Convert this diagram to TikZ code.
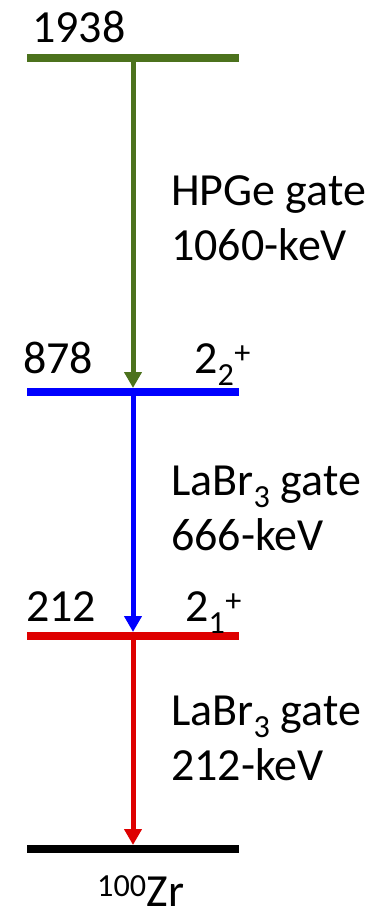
\documentclass[tikz,border=0pt]{standalone}
\usepackage{fontspec}
\setmainfont{Carlito}
\usetikzlibrary{arrows.meta}
\definecolor{lvgreen}{RGB}{76,114,29}
\definecolor{lvblue}{RGB}{0,0,255}
\definecolor{lvred}{RGB}{222,0,0}
\tikzset{
  level/.style={line width=8pt},
  gamma/.style={line width=5pt, -{Triangle[width=17pt,length=16pt]}},
  lbl/.style={font=\fontsize{46}{55}\selectfont, inner sep=0pt, anchor=base west, align=left}
}
\begin{document}
\begin{tikzpicture}[x=1pt, y=-1pt]
    \useasboundingbox (0,0) rectangle (380,920);
    % levels
    \draw[level, lvgreen] (27,58) -- (239,58);
    \draw[level, lvblue] (27,392) -- (239,392);
    \draw[level, lvred] (27,636) -- (239,636);
    \draw[level, black] (27,849) -- (239,849);
    \coordinate (b1938) at (133,62);
    \coordinate (t878) at (133,388);
    \coordinate (b878) at (133,396);
    \coordinate (t212) at (133,632);
    \coordinate (b212) at (133,640);
    \coordinate (t0) at (133,845);
    % transitions
    \draw[gamma, lvgreen] (b1938) -- (t878);
    \draw[gamma, lvblue] (b878) -- (t212);
    \draw[gamma, lvred] (b212) -- (t0);
    % energies and spins
    \node[lbl] (e1938) at (32,43) {1938};
    \node[lbl] (e878) at (23,373) {878};
    \node[lbl] (e212) at (26,621) {212};
    \node[lbl] (s878) at (194,373) {2\textsubscript{2}\textsuperscript{+}};
    \node[lbl] (s212) at (185,621) {2\textsubscript{1}\textsuperscript{+}};
    % gates (base = last line)
    \node[lbl] (g1060) at (171,260) {HPGe gate\\1060-keV};
    \node[lbl] (g666) at (171,550) {LaBr\textsubscript{3} gate\\666-keV};
    \node[lbl] (g212) at (171,780) {LaBr\textsubscript{3} gate\\212-keV};
    \node[lbl, text depth=0pt] (nuc) at (97,906) {\textsuperscript{100}Zr};
\end{tikzpicture}
\end{document}
